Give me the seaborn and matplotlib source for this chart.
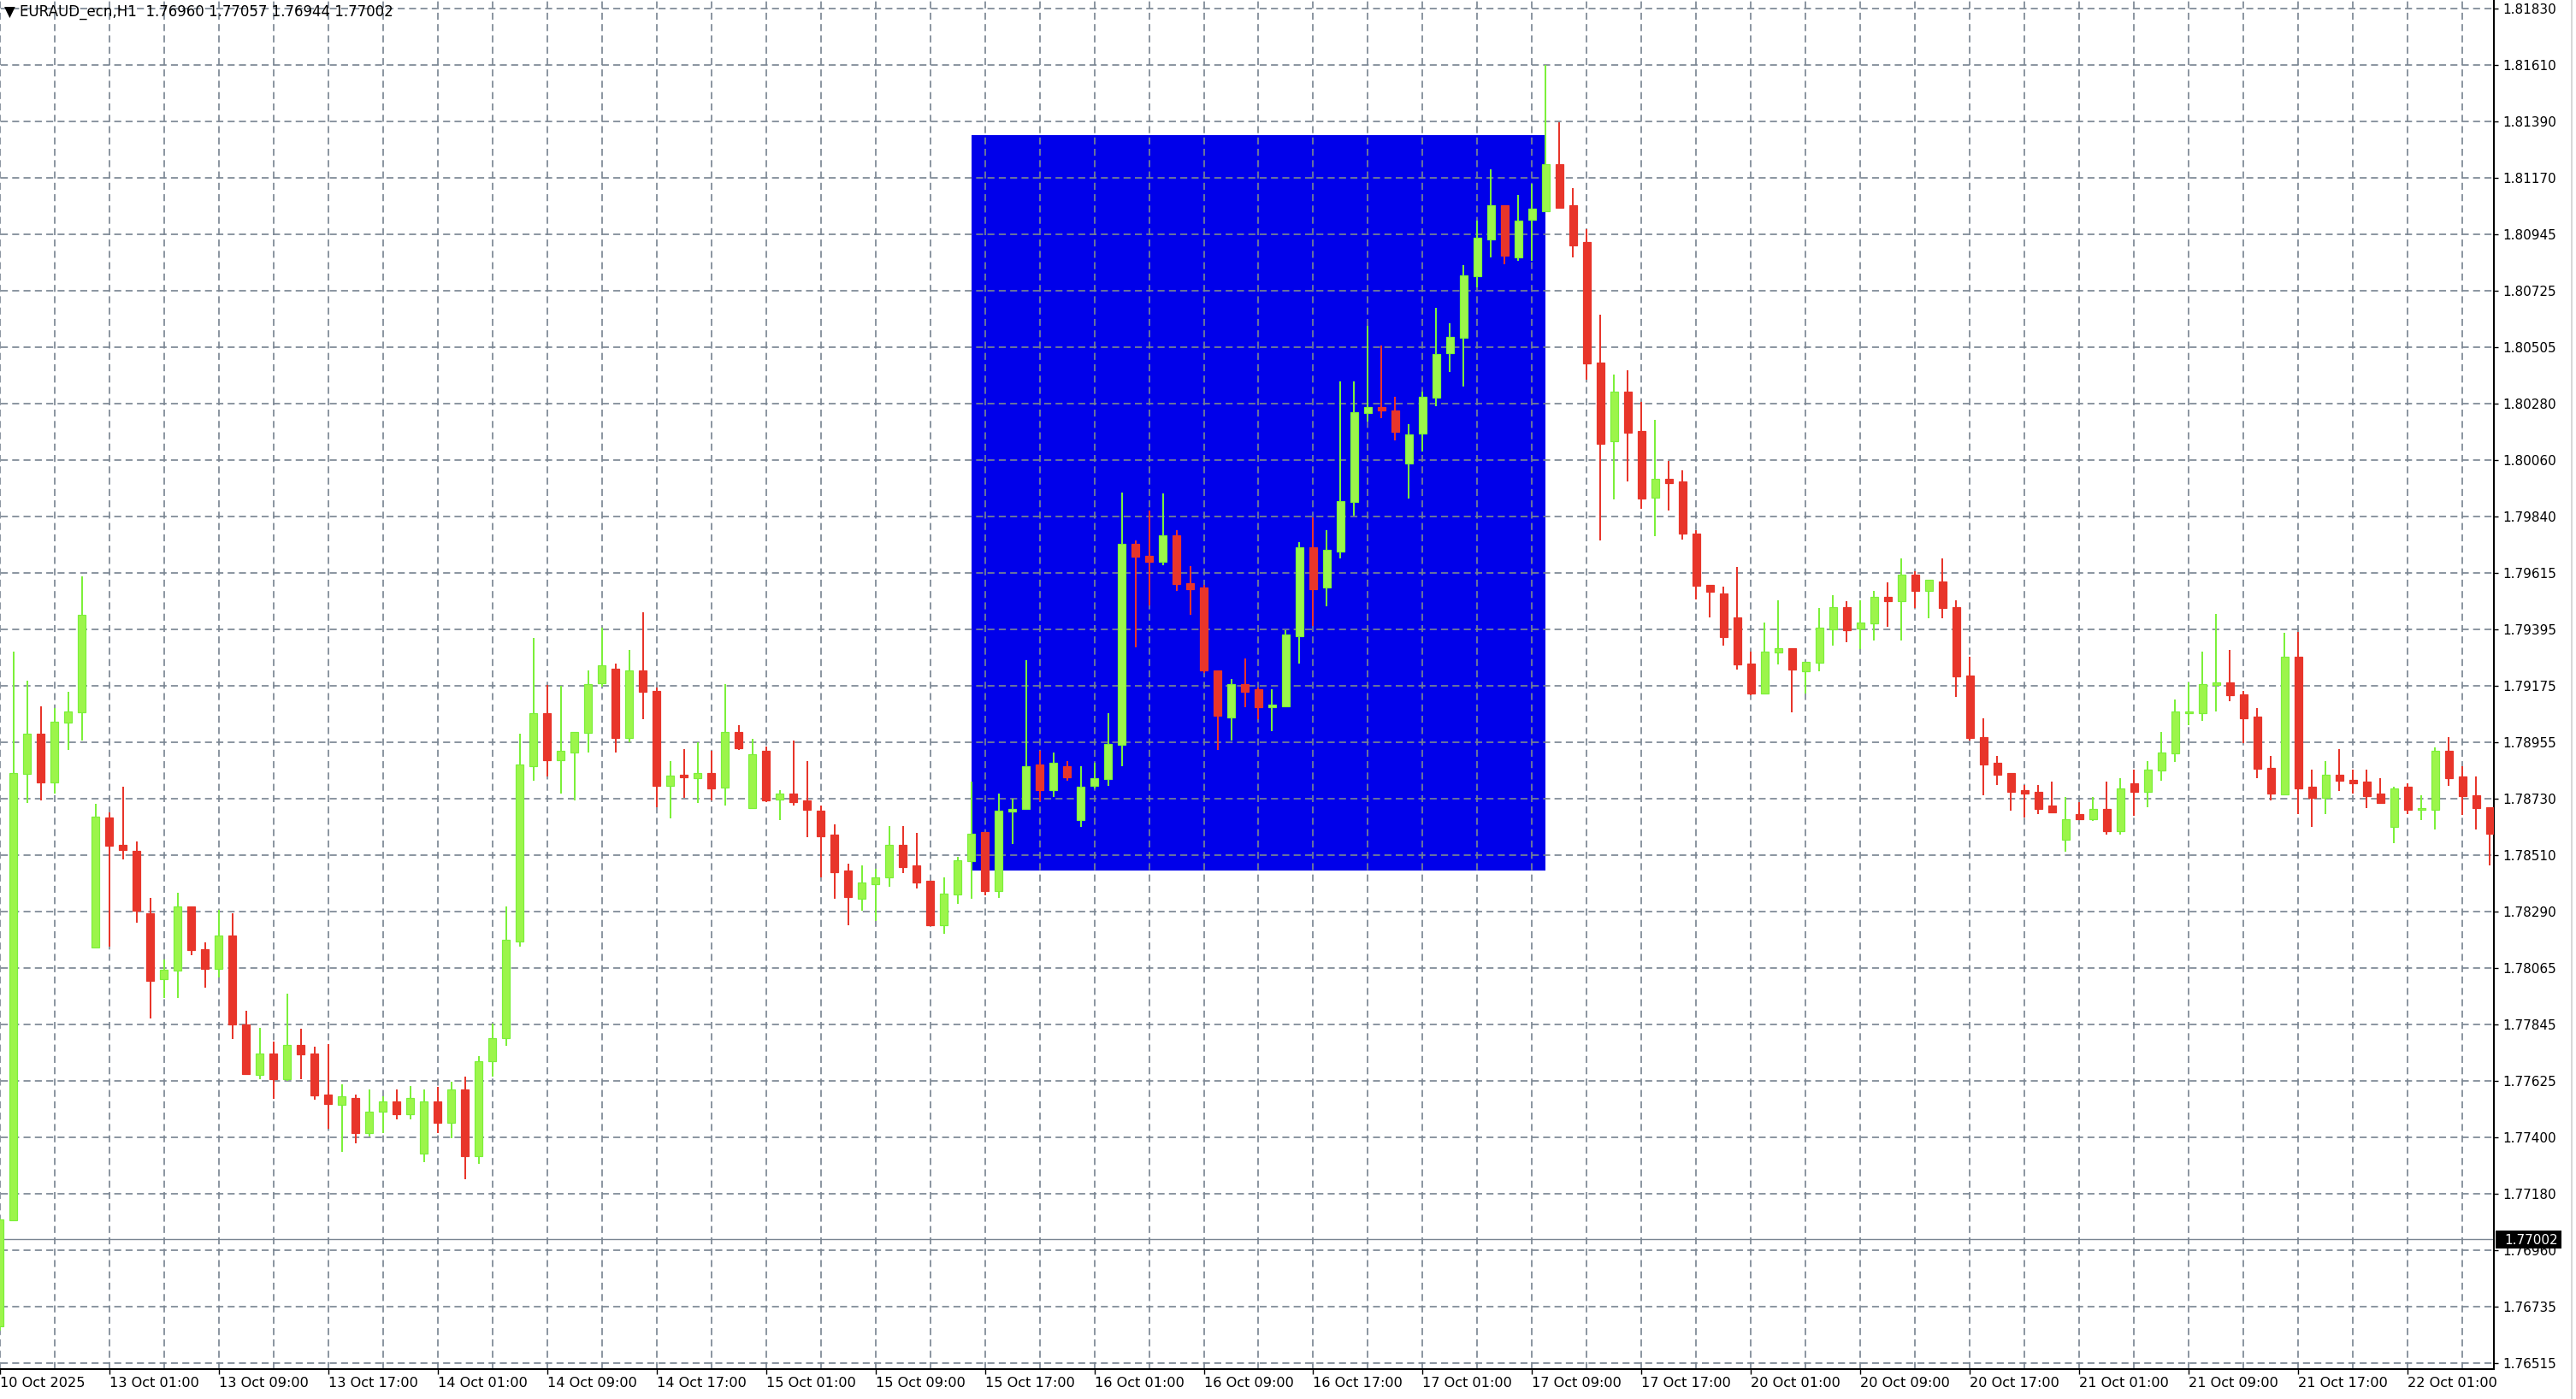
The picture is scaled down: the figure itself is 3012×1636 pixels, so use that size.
import numpy as np
import pandas as pd
import matplotlib
matplotlib.use("Agg")
import matplotlib.pyplot as plt
import matplotlib.transforms as mtransforms
from matplotlib.patches import Rectangle
from matplotlib.lines import Line2D
import seaborn as sns

# ---------------- data ----------------
chart_title = "\u25BC EURAUD_ecn,H1  1.76960 1.77057 1.76944 1.77002"
current_price = 1.77002
current_price_label = "1.77002"

opens = [
    1.76660, 1.77078, 1.78829, 1.78985, 1.78794, 1.79030, 1.79070, 1.78146, 1.78656, 1.78549,
    1.78528, 1.78282, 1.78024, 1.78057, 1.78308, 1.78142, 1.78062, 1.78195, 1.77844, 1.77648,
    1.77730, 1.77632, 1.77765, 1.77730, 1.77570, 1.77529, 1.77556, 1.77418, 1.77502, 1.77545,
    1.77492, 1.77338, 1.77545, 1.77460, 1.77590, 1.77330, 1.77700, 1.77790, 1.78170, 1.78860,
    1.79066, 1.78881, 1.78914, 1.78989, 1.79184, 1.79242, 1.78969, 1.79235, 1.79155, 1.78781,
    1.78825, 1.78813, 1.78831, 1.78774, 1.78992, 1.78693, 1.78919, 1.78727, 1.78751, 1.78724,
    1.78684, 1.78590, 1.78449, 1.78337, 1.78397, 1.78424, 1.78550, 1.78468, 1.78408, 1.78235,
    1.78356, 1.78486, 1.78602, 1.78370, 1.78680, 1.78691, 1.78865, 1.78766, 1.78858, 1.78646,
    1.78780, 1.78808, 1.78942, 1.79731, 1.79685, 1.79661, 1.79765, 1.79578, 1.79559, 1.79235,
    1.79050, 1.79181, 1.79162, 1.79091, 1.79094, 1.79370, 1.79719, 1.79561, 1.79701, 1.79895,
    1.80246, 1.80268, 1.80255, 1.80045, 1.80165, 1.80305, 1.80481, 1.80541, 1.80782, 1.80924,
    1.81060, 1.80855, 1.81003, 1.81037, 1.81222, 1.81060, 1.80915, 1.80444, 1.80133, 1.80329,
    1.80174, 1.79912, 1.79987, 1.79975, 1.79773, 1.79570, 1.79538, 1.79444, 1.79262, 1.79143,
    1.79305, 1.79322, 1.79231, 1.79265, 1.79397, 1.79483, 1.79398, 1.79419, 1.79524, 1.79507,
    1.79612, 1.79546, 1.79584, 1.79483, 1.79214, 1.78972, 1.78871, 1.78831, 1.78765, 1.78759,
    1.78704, 1.78571, 1.78671, 1.78652, 1.78691, 1.78605, 1.78792, 1.78759, 1.78841, 1.78908,
    1.79068, 1.79068, 1.79177, 1.79187, 1.79140, 1.79053, 1.78851, 1.78749, 1.79288, 1.78778,
    1.78733, 1.78825, 1.78804, 1.78798, 1.78751, 1.78621, 1.78778, 1.78686, 1.78686, 1.78919,
    1.78818, 1.78744, 1.78697,
]
highs = [
    1.77082, 1.79308, 1.79193, 1.79092, 1.79086, 1.79152, 1.79602, 1.78710, 1.78677, 1.78779,
    1.78563, 1.78343, 1.78099, 1.78362, 1.78308, 1.78168, 1.78294, 1.78280, 1.77899, 1.77833,
    1.77778, 1.77967, 1.77827, 1.77759, 1.77769, 1.77611, 1.77570, 1.77591, 1.77564, 1.77591,
    1.77605, 1.77591, 1.77600, 1.77620, 1.77640, 1.77720, 1.77850, 1.78309, 1.78986, 1.79363,
    1.79176, 1.79174, 1.78992, 1.79235, 1.79402, 1.79262, 1.79316, 1.79464, 1.79168, 1.78878,
    1.78926, 1.78953, 1.78919, 1.79181, 1.79020, 1.78967, 1.78935, 1.78765, 1.78960, 1.78878,
    1.78704, 1.78630, 1.78476, 1.78469, 1.78455, 1.78624, 1.78624, 1.78598, 1.78408, 1.78421,
    1.78502, 1.78798, 1.78602, 1.78752, 1.78731, 1.79275, 1.78920, 1.78913, 1.78878, 1.78858,
    1.78871, 1.79068, 1.79934, 1.79745, 1.79863, 1.79928, 1.79785, 1.79645, 1.79571, 1.79235,
    1.79201, 1.79283, 1.79168, 1.79162, 1.79392, 1.79737, 1.79834, 1.79786, 1.80370, 1.80370,
    1.80588, 1.80510, 1.80309, 1.80201, 1.80330, 1.80658, 1.80597, 1.80825, 1.80999, 1.81200,
    1.81060, 1.81100, 1.81143, 1.81609, 1.81387, 1.81127, 1.80967, 1.80631, 1.80397, 1.80411,
    1.80289, 1.80217, 1.80055, 1.80021, 1.79786, 1.79570, 1.79565, 1.79639, 1.79308, 1.79424,
    1.79511, 1.79322, 1.79267, 1.79478, 1.79531, 1.79505, 1.79511, 1.79545, 1.79579, 1.79673,
    1.79624, 1.79590, 1.79673, 1.79511, 1.79289, 1.79047, 1.78898, 1.78831, 1.78784, 1.78786,
    1.78798, 1.78738, 1.78718, 1.78738, 1.78798, 1.78812, 1.78846, 1.78878, 1.78994, 1.79121,
    1.79187, 1.79309, 1.79455, 1.79316, 1.79153, 1.79086, 1.78898, 1.79382, 1.79387, 1.78845,
    1.78878, 1.78925, 1.78845, 1.78845, 1.78811, 1.78778, 1.78791, 1.78744, 1.78932, 1.78972,
    1.78858, 1.78818, 1.78697,
]
lows = [
    1.76645, 1.77078, 1.78714, 1.78726, 1.78753, 1.78921, 1.78960, 1.78146, 1.78150, 1.78493,
    1.78243, 1.77868, 1.77950, 1.77950, 1.78117, 1.77988, 1.78031, 1.77788, 1.77646, 1.77632,
    1.77555, 1.77623, 1.77632, 1.77549, 1.77436, 1.77344, 1.77379, 1.77407, 1.77418, 1.77473,
    1.77473, 1.77305, 1.77420, 1.77400, 1.77238, 1.77300, 1.77640, 1.77760, 1.78150, 1.78800,
    1.78820, 1.78753, 1.78726, 1.78914, 1.79170, 1.78914, 1.78954, 1.79042, 1.78698, 1.78653,
    1.78733, 1.78713, 1.78724, 1.78706, 1.78921, 1.78693, 1.78719, 1.78646, 1.78706, 1.78579,
    1.78424, 1.78337, 1.78236, 1.78290, 1.78250, 1.78385, 1.78438, 1.78378, 1.78232, 1.78202,
    1.78319, 1.78337, 1.78352, 1.78343, 1.78552, 1.78688, 1.78721, 1.78739, 1.78800, 1.78619,
    1.78772, 1.78780, 1.78860, 1.79325, 1.79488, 1.79647, 1.79545, 1.79452, 1.79225, 1.78922,
    1.78960, 1.79090, 1.79044, 1.78995, 1.79090, 1.79263, 1.79410, 1.79486, 1.79674, 1.79843,
    1.80212, 1.80224, 1.80136, 1.79910, 1.80093, 1.80273, 1.80406, 1.80347, 1.80739, 1.80855,
    1.80828, 1.80843, 1.80841, 1.81037, 1.81051, 1.80855, 1.80375, 1.79743, 1.79904, 1.79976,
    1.79868, 1.79762, 1.79863, 1.79748, 1.79514, 1.79444, 1.79333, 1.79237, 1.79137, 1.79143,
    1.79258, 1.79069, 1.79143, 1.79231, 1.79331, 1.79344, 1.79317, 1.79351, 1.79405, 1.79351,
    1.79479, 1.79438, 1.79438, 1.79129, 1.78961, 1.78746, 1.78786, 1.78683, 1.78658, 1.78672,
    1.78679, 1.78524, 1.78652, 1.78645, 1.78591, 1.78591, 1.78665, 1.78699, 1.78801, 1.78875,
    1.79021, 1.79035, 1.79075, 1.79115, 1.78948, 1.78813, 1.78726, 1.78749, 1.78672, 1.78619,
    1.78672, 1.78760, 1.78753, 1.78693, 1.78713, 1.78558, 1.78672, 1.78646, 1.78612, 1.78780,
    1.78666, 1.78612, 1.78471,
]
closes = [
    1.77080, 1.78831, 1.78985, 1.78794, 1.79032, 1.79072, 1.79454, 1.78660, 1.78545, 1.78531,
    1.78290, 1.78016, 1.78059, 1.78308, 1.78136, 1.78062, 1.78195, 1.77846, 1.77652, 1.77730,
    1.77632, 1.77765, 1.77728, 1.77566, 1.77533, 1.77562, 1.77418, 1.77502, 1.77545, 1.77492,
    1.77556, 1.77545, 1.77460, 1.77590, 1.77330, 1.77700, 1.77790, 1.78178, 1.78865, 1.79066,
    1.78881, 1.78919, 1.78992, 1.79180, 1.79253, 1.78968, 1.79234, 1.79149, 1.78780, 1.78823,
    1.78815, 1.78831, 1.78773, 1.78992, 1.78928, 1.78905, 1.78726, 1.78750, 1.78719, 1.78686,
    1.78585, 1.78444, 1.78344, 1.78402, 1.78421, 1.78550, 1.78464, 1.78403, 1.78235, 1.78360,
    1.78488, 1.78595, 1.78370, 1.78684, 1.78690, 1.78858, 1.78766, 1.78871, 1.78814, 1.78778,
    1.78811, 1.78947, 1.79731, 1.79680, 1.79661, 1.79765, 1.79572, 1.79553, 1.79236, 1.79056,
    1.79181, 1.79150, 1.79090, 1.79100, 1.79376, 1.79718, 1.79554, 1.79707, 1.79899, 1.80248,
    1.80268, 1.80253, 1.80170, 1.80161, 1.80309, 1.80476, 1.80544, 1.80785, 1.80933, 1.81060,
    1.80863, 1.80999, 1.81048, 1.81222, 1.81051, 1.80902, 1.80440, 1.80125, 1.80329, 1.80167,
    1.79910, 1.79987, 1.79969, 1.79770, 1.79566, 1.79543, 1.79365, 1.79257, 1.79143, 1.79308,
    1.79322, 1.79237, 1.79267, 1.79403, 1.79483, 1.79392, 1.79422, 1.79522, 1.79507, 1.79611,
    1.79546, 1.79590, 1.79479, 1.79210, 1.78968, 1.78867, 1.78826, 1.78759, 1.78752, 1.78692,
    1.78679, 1.78649, 1.78652, 1.78690, 1.78605, 1.78770, 1.78759, 1.78844, 1.78912, 1.79073,
    1.79075, 1.79180, 1.79187, 1.79136, 1.79048, 1.78847, 1.78753, 1.79288, 1.78773, 1.78733,
    1.78825, 1.78800, 1.78793, 1.78740, 1.78713, 1.78771, 1.78686, 1.78693, 1.78919, 1.78813,
    1.78740, 1.78693, 1.78592,
]

xtick_bars = list(range(0, 177, 8))
xtick_labels = [
    "10 Oct 2025", "13 Oct 01:00", "13 Oct 09:00", "13 Oct 17:00", "14 Oct 01:00",
    "14 Oct 09:00", "14 Oct 17:00", "15 Oct 01:00", "15 Oct 09:00", "15 Oct 17:00",
    "16 Oct 01:00", "16 Oct 09:00", "16 Oct 17:00", "17 Oct 01:00", "17 Oct 09:00",
    "17 Oct 17:00", "20 Oct 01:00", "20 Oct 09:00", "20 Oct 17:00", "21 Oct 01:00",
    "21 Oct 09:00", "21 Oct 17:00", "22 Oct 01:00",
]
ytick_labels = [
    "1.81830", "1.81610", "1.81390", "1.81170", "1.80945", "1.80725", "1.80505",
    "1.80280", "1.80060", "1.79840", "1.79615", "1.79395", "1.79175", "1.78955",
    "1.78730", "1.78510", "1.78290", "1.78065", "1.77845", "1.77625", "1.77400",
    "1.77180", "1.76960", "1.76735", "1.76515",
]
ytick_top, ytick_bottom = 1.81830, 1.76515

zone_start_bar, zone_end_bar = 71, 113
zone_high, zone_low = 1.81335, 1.78449

# ---------------- styling ----------------
W, H = 3012, 1636
DPI = 100
PX = 72.0 / DPI  # points per pixel

bull_fill = "#9CF54B"
bull_edge = "#7CF03A"
bear_col = "#E8352A"
grid_col = "#7A8592"
zone_col = "#0000EA"

sns.set_theme(style="white")
plt.rcParams["font.family"] = ["DejaVu Sans"]

df = pd.DataFrame({"open": opens, "high": highs, "low": lows, "close": closes})
df["bar"] = np.arange(len(df))
df["up"] = df["close"] >= df["open"]
min_body = 0.00006
df["body_lo"] = df[["open", "close"]].min(axis=1)
df["body_h"] = (df["close"] - df["open"]).abs().clip(lower=min_body)

fig = plt.figure(figsize=(W / DPI, H / DPI), dpi=DPI, facecolor="white")
ax_left, ax_bottom = 0.0, 35 / H
ax_w, ax_h = 2916 / W, 1601 / H
ax = fig.add_axes([ax_left, ax_bottom, ax_w, ax_h])
ax.set_facecolor("white")

x0, x1 = 0.0625, 182.3125
y0, y1 = 1.764931, 1.818652
ax.set_xlim(x0, x1)
ax.set_ylim(y0, y1)

# blue zone rectangle
ax.add_patch(Rectangle((zone_start_bar, zone_low), zone_end_bar - zone_start_bar,
                       zone_high - zone_low, facecolor=zone_col, edgecolor="none", zorder=1))

# grid
ytick_vals = np.linspace(ytick_top, ytick_bottom, len(ytick_labels))
grid_lw = 1.7 * PX
dash = (0, (4.8, 3.0))
ax.vlines(np.arange(0, 183, 4), y0, y1, colors=grid_col, linewidth=grid_lw,
          linestyles=dash, zorder=2)
ax.hlines(ytick_vals, x0, x1, colors=grid_col, linewidth=grid_lw,
          linestyles=dash, zorder=2)

# current price line
ax.axhline(current_price, color="#7A8592", lw=1.4 * PX, zorder=2.5)

# candles
up = df[df["up"]]
dn = df[~df["up"]]
ax.vlines(up["bar"], up["low"], up["high"], colors=bull_edge, linewidth=2 * PX, zorder=3)
ax.vlines(dn["bar"], dn["low"], dn["high"], colors=bear_col, linewidth=2 * PX, zorder=3)
ax.bar(up["bar"], up["body_h"], bottom=up["body_lo"], width=9 / 16,
       color=bull_fill, edgecolor=bull_edge, linewidth=1.2 * PX, zorder=4)
ax.bar(dn["bar"], dn["body_h"], bottom=dn["body_lo"], width=9 / 16,
       color=bear_col, edgecolor=bear_col, linewidth=1.2 * PX, zorder=4)

# axes / spines
for s in ["left", "top"]:
    ax.spines[s].set_visible(False)
for s in ["right", "bottom"]:
    ax.spines[s].set_visible(True)
    ax.spines[s].set_color("black")
    ax.spines[s].set_linewidth(2 * PX)

ax.yaxis.tick_right()
ax.set_yticks(ytick_vals)
ax.set_yticklabels(ytick_labels)
ax.tick_params(axis="y", which="major", direction="out", length=5 * PX * 1.0,
               width=1.4 * PX, color="black", pad=4, labelsize=11, labelcolor="black",
               right=True, left=False)
ax.set_xticks(xtick_bars)
ax.set_xticklabels(xtick_labels)
ax.tick_params(axis="x", which="major", direction="out", length=6 * PX,
               width=1.4 * PX, color="black", pad=2, labelsize=11.6, labelcolor="black",
               bottom=True)
for lbl in ax.get_xticklabels():
    lbl.set_ha("left")
ax.grid(False)
ax.set_xlabel("")
ax.set_ylabel("")

# current price tag on right axis
blend = mtransforms.blended_transform_factory(ax.transAxes, ax.transData)
ppp = (y1 - y0) / 1601.0  # price per pixel
ax.add_patch(Rectangle((1 + 2 / 2916, current_price - 10.5 * ppp), 77 / 2916, 21 * ppp,
                       transform=blend, facecolor="black", edgecolor="none",
                       clip_on=False, zorder=10))
ax.text(1 + 12 / 2916, current_price, current_price_label, transform=blend,
        color="white", fontsize=11, ha="left", va="center_baseline",
        clip_on=False, zorder=11)

# chart title (top-left)
fig.text(5 / W, 1 - 14 / H, chart_title, fontsize=12, color="black",
         ha="left", va="center")

# window border on the right
fig.add_artist(Line2D([3007 / W, 3007 / W], [0, 1], transform=fig.transFigure,
                      color="#D8D8D8", lw=2 * PX))

fig.savefig("out.png", dpi=DPI, facecolor="white")
